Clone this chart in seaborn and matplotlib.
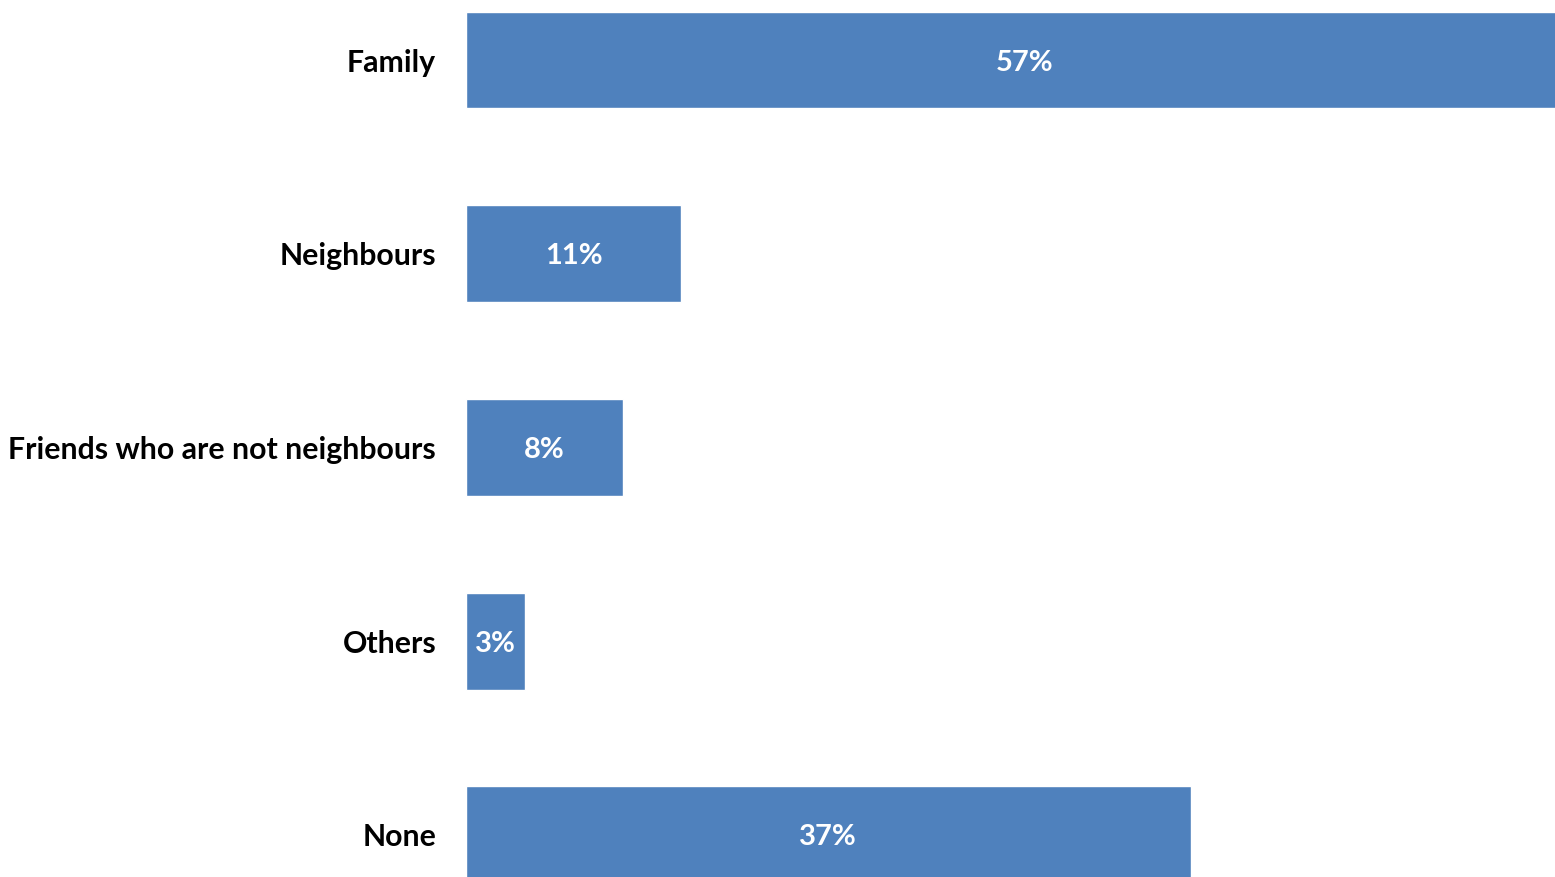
import matplotlib
matplotlib.use("Agg")
import matplotlib.pyplot as plt
import seaborn as sns
import pandas as pd

categories = ["Family", "Neighbours", "Friends who are not neighbours", "Others", "None"]
values = [57, 11, 8, 3, 37]
labels = ["57%", "11%", "8%", "3%", "37%"]

sns.set_theme(style="white")
plt.rcParams['font.family'] = ['Lato', 'DejaVu Sans']

df = pd.DataFrame({"category": categories, "value": values})

fig = plt.figure(figsize=(15.55, 8.77), dpi=100)
ax = fig.add_axes([466/1555, 0, 1089/1555, 1])
sns.barplot(data=df, x="value", y="category", orient="h", color="#4F81BD",
            saturation=1, width=0.5, ax=ax)

ax.set_xlim(0, 55.6)
ax.set_ylim(4.218, -0.31)
for i, (v, lab) in enumerate(zip(values, labels)):
    ax.text(v / 2, i, lab, ha="center", va="center_baseline", color="white",
            fontsize=21, fontweight="bold", clip_on=False)

ax.set_xlabel("")
ax.set_ylabel("")
ax.set_xticks([])
ax.tick_params(axis="y", length=0, pad=21.5)
for t in ax.get_yticklabels():
    t.set_fontsize(21.8)
    t.set_fontweight("bold")
    t.set_color("black")
for s in ax.spines.values():
    s.set_visible(False)

fig.savefig("out.png", dpi=100)
